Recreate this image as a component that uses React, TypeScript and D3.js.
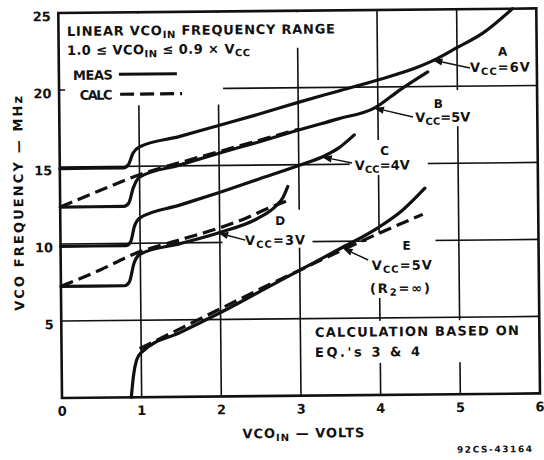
import React from 'react';
import * as d3 from 'd3';

type Pt = [number, number];

// ---- axis data ----
const X_TICKS = [0, 1, 2, 3, 4, 5, 6];
const Y_TICK_LABELS = [5, 10, 15, 20, 25];
const X_GRID = [1, 2, 3, 4, 5];
const Y_GRID = [5, 10, 15, 20];

// ---- measured curves (VCOin volts, MHz) ----
const A_MEAS: Pt[] = [[0, 14.9], [0.8, 14.9], [0.86, 15.1], [0.92, 15.85], [1.0, 16.25], [1.5, 16.9], [2, 17.6], [2.5, 18.3], [3, 19.05], [3.5, 19.75], [4, 20.45], [4.5, 21.25], [4.75, 21.8], [5.0, 22.5], [5.33, 23.45], [5.7, 25.0]];
const B_MEAS: Pt[] = [[0, 12.4], [0.8, 12.4], [0.86, 12.6], [0.92, 13.6], [1.0, 14.3], [1.5, 15.05], [2, 15.8], [2.5, 16.5], [3, 17.25], [3.5, 17.95], [3.96, 18.64], [4.28, 19.8], [4.63, 20.95]];
const C_MEAS: Pt[] = [[0, 9.85], [0.82, 9.85], [0.88, 10.1], [0.93, 11.1], [1.0, 11.65], [1.5, 12.45], [2, 13.25], [2.5, 14.1], [3, 14.95], [3.3, 15.5], [3.5, 16.05], [3.7, 16.9]];
const D_MEAS: Pt[] = [[0, 7.25], [0.8, 7.25], [0.86, 7.5], [0.92, 8.7], [1.0, 9.3], [1.5, 9.95], [2, 10.65], [2.5, 11.6], [2.7, 12.3], [2.8, 12.9], [2.86, 13.6]];
const E_MEAS: Pt[] = [[0.87, 0], [0.9, 1.4], [0.94, 2.4], [1.0, 2.9], [1.5, 4.2], [2, 5.45], [2.5, 6.8], [3, 8.15], [3.5, 9.5], [4, 10.9], [4.3, 12.0], [4.58, 13.4]];

// ---- calculated curves ----
const B_CALC: Pt[] = [[0, 12.4], [0.5, 13.45], [1, 14.45], [1.5, 15.2], [2, 15.9], [2.5, 16.6], [3, 17.3]];
const D_CALC: Pt[] = [[0, 7.25], [0.5, 8.3], [0.92, 9.3], [1.5, 10.2], [2, 10.95], [2.3, 11.5], [2.64, 12.25], [2.89, 12.75]];
const E_CALC: Pt[] = [[0.98, 3.15], [1.5, 4.45], [2, 5.7], [2.5, 6.95], [3, 8.15], [3.5, 9.35], [4, 10.5], [4.55, 11.7]];

const MEAS_SERIES = [A_MEAS, B_MEAS, C_MEAS, D_MEAS, E_MEAS];
const CALC_SERIES = [B_CALC, D_CALC, E_CALC];

// ---- annotation arrows (tip / tail in data units) ----
const ARROW_TIPS: Pt[] = [[4.69, 21.72], [3.95, 18.64], [3.29, 15.49], [1.98, 10.62], [3.54, 9.56]];
const ARROW_TAILS: Pt[] = [[5.16, 21.17], [4.44, 18.03], [3.67, 15.08], [2.32, 10.14], [3.86, 8.77]];
const CURVE_LETTERS = ['A', 'B', 'C', 'D', 'E'];
const VCC_VALUES = ['6V', '5V', '4V', '3V', '5V'];

// ---- layout (px, before the slight scan rotation) ----
const W = 544, H = 460;
const X0 = 62, X1 = 540, Y0 = 398, Y1 = 13;
const ROT = -0.55;
const FONT = "'DejaVu Sans', 'Liberation Sans', Arial, sans-serif";
const INK = '#111';

const LETTER_POS: Pt[] = [[506, 60], [441, 111.6], [387, 158], [282, 227], [408, 253]];
const VCC_POS: { x: number; y: number; len: number }[] = [
  { x: 473, y: 76, len: 60 },
  { x: 418, y: 125.4, len: 55 },
  { x: 357, y: 172.8, len: 55 },
  { x: 246.5, y: 246.8, len: 60 },
  { x: 373, y: 273, len: 60 },
];
const MASKS: [number, number, number, number][] = [
  [X0 + 1.5, Y1 + 1.5, 226, 106],
  [X0 + 1.5, Y1 + 1.5, 342, 50],
  [462, 44, 537, 80],
  [413, 94, 473, 130],
  [352, 143, 430, 178],
  [224, 212, 314, 250],
  [368, 236, 437, 301],
  [310, 324, 525, 366],
];

type Part = { t: string; sub?: boolean };

function Rich(props: { x: number; y: number; parts: Part[]; len?: number; fs: number; subFs?: number; anchor?: string; transform?: string }) {
  const { x, y, parts, len, fs, subFs = fs * 0.72, anchor = 'start', transform } = props;
  let prev = false;
  return (
    <text x={x} y={y} fontSize={fs} fontWeight="bold" fontFamily={FONT} fill={INK}
      textAnchor={anchor} transform={transform}
      {...(len ? { textLength: len, lengthAdjust: 'spacing' } : {})}>
      {parts.map((p, i) => {
        const s = !!p.sub;
        const dy = s && !prev ? 3 : !s && prev ? -3 : 0;
        prev = s;
        return <tspan key={i} dy={dy} fontSize={s ? subFs : fs}>{p.t}</tspan>;
      })}
    </text>
  );
}

export default function App() {
  const x = d3.scaleLinear().domain([0, 6]).range([X0, X1]);
  const y = d3.scaleLinear().domain([0, 25]).range([Y0, Y1]);
  const line = d3.line<Pt>().x(d => x(d[0])).y(d => y(d[1])).curve(d3.curveMonotoneX);

  const arrow = (tip: Pt, tail: Pt, key: number) => {
    const tx = x(tip[0]), ty = y(tip[1]);
    const sx = x(tail[0]), sy = y(tail[1]);
    const dx = tx - sx, dy = ty - sy;
    const L = Math.hypot(dx, dy);
    const ux = dx / L, uy = dy / L;
    const hl = 10, hw = 3.6;
    const bx = tx - ux * hl, by = ty - uy * hl;
    const pts = [[tx, ty], [bx - uy * hw, by + ux * hw], [bx + uy * hw, by - ux * hw]];
    return (
      <g key={key}>
        <line x1={sx} y1={sy} x2={bx} y2={by} stroke={INK} strokeWidth={1.4} />
        <polygon points={pts.map(p => p.join(',')).join(' ')} fill={INK} />
      </g>
    );
  };

  return (
    <svg width={W} height={H} style={{ position: 'absolute', left: 0, top: 0, background: '#fff' }}>
      <rect width={W} height={H} fill="#fff" />
      <g transform={`rotate(${ROT} ${X0} ${Y0})`}>
        {/* grid */}
        {X_GRID.map(v => (
          <line key={'gx' + v} x1={x(v)} x2={x(v)} y1={y(0)} y2={y(25)} stroke={INK} strokeWidth={1.6} />
        ))}
        {Y_GRID.map(v => (
          <line key={'gy' + v} x1={x(0)} x2={x(6)} y1={y(v)} y2={y(v)} stroke={INK} strokeWidth={1.6} />
        ))}
        {/* white-out behind texts */}
        {MASKS.map((m, i) => (
          <rect key={'m' + i} x={m[0]} y={m[1]} width={m[2] - m[0]} height={m[3] - m[1]} fill="#fff" />
        ))}
        <line x1={x(0)} x2={x(0) + 6} y1={y(20)} y2={y(20)} stroke={INK} strokeWidth={1.6} />
        {/* frame */}
        <rect x={x(0)} y={y(25)} width={x(6) - x(0)} height={y(0) - y(25)} fill="none" stroke={INK} strokeWidth={2.6} />

        {/* curves */}
        {MEAS_SERIES.map((s, i) => (
          <path key={'ms' + i} d={line(s) || ''} fill="none" stroke={INK} strokeWidth={3.2} strokeLinejoin="round" strokeLinecap="round" />
        ))}
        {CALC_SERIES.map((s, i) => (
          <path key={'cs' + i} d={line(s) || ''} fill="none" stroke={INK} strokeWidth={3.2} strokeDasharray="13 6" />
        ))}

        {/* arrows + curve labels */}
        {ARROW_TIPS.map((t, i) => arrow(t, ARROW_TAILS[i], i))}
        {CURVE_LETTERS.map((c, i) => (
          <text key={'l' + c} x={LETTER_POS[i][0]} y={LETTER_POS[i][1]} fontSize={12} fontWeight="bold" fontFamily={FONT} fill={INK} textAnchor="middle">{c}</text>
        ))}
        {VCC_VALUES.map((v, i) => (
          <Rich key={'v' + i} x={VCC_POS[i].x} y={VCC_POS[i].y} len={VCC_POS[i].len} fs={13} subFs={10}
            parts={[{ t: 'V' }, { t: 'CC', sub: true }, { t: '=' + v }]} />
        ))}
        <Rich x={371} y={296} len={60} fs={13} subFs={10}
          parts={[{ t: '(R' }, { t: '2', sub: true }, { t: '=∞)' }]} />

        {/* legend */}
        <Rich x={70.5} y={36} len={268} fs={13} subFs={10}
          parts={[{ t: 'LINEAR VCO' }, { t: 'IN', sub: true }, { t: ' FREQUENCY RANGE' }]} />
        <Rich x={70.3} y={55} len={183} fs={13} subFs={10}
          parts={[{ t: '1.0 ≤ VCO' }, { t: 'IN', sub: true }, { t: ' ≤ 0.9 × V' }, { t: 'CC', sub: true }]} />
        <Rich x={76} y={80} len={40} fs={13} parts={[{ t: 'MEAS' }]} />
        <line x1={122} x2={180} y1={74.8} y2={74.8} stroke={INK} strokeWidth={3} />
        <Rich x={82.5} y={100} len={33} fs={13} parts={[{ t: 'CALC' }]} />
        <line x1={123} x2={185} y1={94.8} y2={94.8} stroke={INK} strokeWidth={3.2} strokeDasharray="14 6" />

        <Rich x={315.6} y={339.4} len={204} fs={13} parts={[{ t: 'CALCULATION BASED ON' }]} />
        <Rich x={315.4} y={359.4} len={105} fs={13} parts={[{ t: "EQ.'s 3 & 4" }]} />

        {/* tick labels */}
        {X_TICKS.map(v => (
          <text key={'xt' + v} x={x(v)} y={Y0 + 17.7} fontSize={13} fontWeight="bold" fontFamily={FONT} fill={INK} textAnchor="middle">{v}</text>
        ))}
        {Y_TICK_LABELS.map(v => (
          <text key={'yt' + v} x={X0 - 7.5} y={y(v) + 8} fontSize={13} fontWeight="bold" fontFamily={FONT} fill={INK} textAnchor="end">{v}</text>
        ))}

        {/* axis titles */}
        <Rich x={242} y={440} len={122} fs={13} subFs={10}
          parts={[{ t: 'VCO' }, { t: 'IN', sub: true }, { t: ' — VOLTS' }]} />
        <Rich x={0} y={0} len={215} fs={13} anchor="middle" transform="translate(25,203) rotate(-90)"
          parts={[{ t: 'VCO  FREQUENCY — MHz' }]} />
        <text x={456.5} y={456.5} fontSize={9} fontWeight="bold" fontFamily={FONT} fill={INK}
          textLength={75} lengthAdjust="spacing">92CS-43164</text>
      </g>
    </svg>
  );
}
